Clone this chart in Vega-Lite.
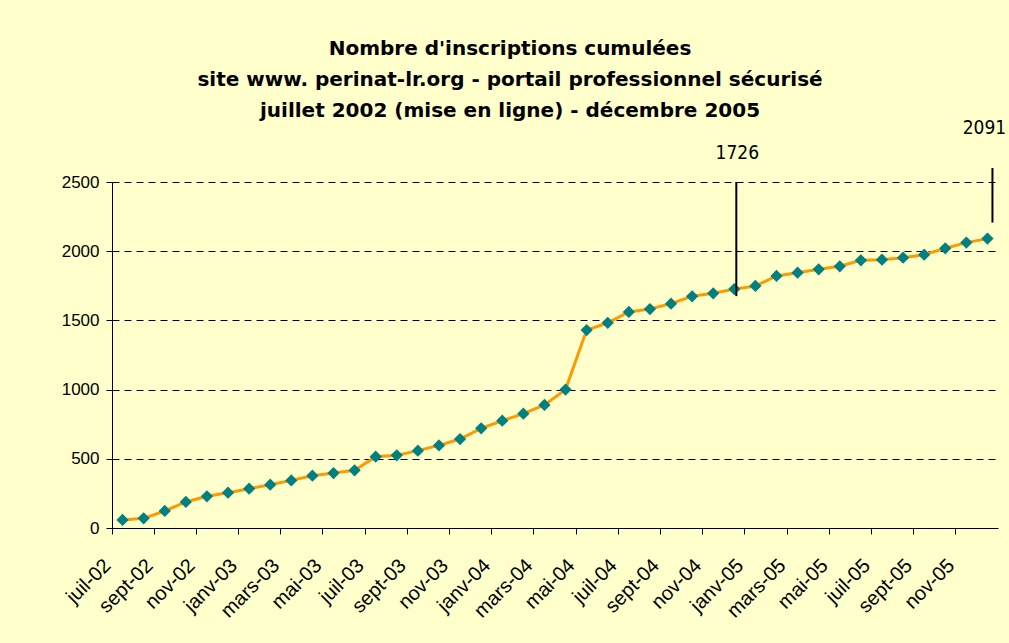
{
  "$schema": "https://vega.github.io/schema/vega-lite/v6.json",
  "width": 886,
  "height": 346,
  "autosize": {"type": "none"},
  "padding": {"left": 112, "top": 182, "right": 11, "bottom": 115},
  "background": "#FFFFCC",
  "config": {"view": {"stroke": null}, "font": "Liberation Sans"},
  "title": {
    "text": ["Nombre d'inscriptions cumulées", "site www. perinat-lr.org - portail professionnel sécurisé", "juillet 2002 (mise en ligne) - décembre 2005"],
    "fontSize": 20,
    "fontWeight": "bold",
    "font": "DejaVu Sans",
    "lineHeight": 31,
    "anchor": "middle",
    "frame": "group",
    "dx": -45,
    "offset": -2,
    "color": "#000000"
  },
  "data": {
    "values": [
      {"mois": "juil-02", "n": 58},
      {"mois": "août-02", "n": 70},
      {"mois": "sept-02", "n": 123},
      {"mois": "oct-02", "n": 188},
      {"mois": "nov-02", "n": 229},
      {"mois": "déc-02", "n": 255},
      {"mois": "janv-03", "n": 284},
      {"mois": "févr-03", "n": 313},
      {"mois": "mars-03", "n": 344},
      {"mois": "avr-03", "n": 378},
      {"mois": "mai-03", "n": 397},
      {"mois": "juin-03", "n": 417},
      {"mois": "juil-03", "n": 515},
      {"mois": "août-03", "n": 525},
      {"mois": "sept-03", "n": 559},
      {"mois": "oct-03", "n": 597},
      {"mois": "nov-03", "n": 643},
      {"mois": "déc-03", "n": 720},
      {"mois": "janv-04", "n": 775},
      {"mois": "févr-04", "n": 826},
      {"mois": "mars-04", "n": 889},
      {"mois": "avr-04", "n": 1000},
      {"mois": "mai-04", "n": 1430},
      {"mois": "juin-04", "n": 1483},
      {"mois": "juil-04", "n": 1561},
      {"mois": "août-04", "n": 1582},
      {"mois": "sept-04", "n": 1621},
      {"mois": "oct-04", "n": 1674},
      {"mois": "nov-04", "n": 1696},
      {"mois": "déc-04", "n": 1726},
      {"mois": "janv-05", "n": 1749},
      {"mois": "févr-05", "n": 1821},
      {"mois": "mars-05", "n": 1845},
      {"mois": "avr-05", "n": 1869},
      {"mois": "mai-05", "n": 1891},
      {"mois": "juin-05", "n": 1934},
      {"mois": "juil-05", "n": 1939},
      {"mois": "août-05", "n": 1953},
      {"mois": "sept-05", "n": 1975},
      {"mois": "oct-05", "n": 2021},
      {"mois": "nov-05", "n": 2062},
      {"mois": "déc-05", "n": 2091}
    ]
  },
  "encoding": {
    "x": {
      "field": "mois",
      "type": "ordinal",
      "sort": null,
      "scale": {"type": "band", "paddingInner": 0, "paddingOuter": 0},
      "axis": {
        "title": null,
        "values": ["juil-02", "sept-02", "nov-02", "janv-03", "mars-03", "mai-03", "juil-03", "sept-03", "nov-03", "janv-04", "mars-04", "mai-04", "juil-04", "sept-04", "nov-04", "janv-05", "mars-05", "mai-05", "juil-05", "sept-05", "nov-05"],
        "bandPosition": 0,
        "labelAngle": -45,
        "labelAlign": "right",
        "labelBaseline": "top",
        "labelPadding": 21,
        "labelOffset": -22,
        "labelFontSize": 20,
        "labelFont": "Liberation Sans",
        "labelColor": "#000000",
        "domainColor": "#000000",
        "tickColor": "#000000",
        "tickSize": 6,
        "grid": false
      }
    },
    "y": {
      "field": "n",
      "type": "quantitative",
      "scale": {"domain": [0, 2500]},
      "axis": {
        "title": null,
        "values": [0, 500, 1000, 1500, 2000, 2500],
        "format": "d",
        "labelFontSize": 17,
        "labelFont": "Liberation Sans",
        "labelColor": "#000000",
        "labelPadding": 7,
        "domainColor": "#000000",
        "tickColor": "#000000",
        "tickSize": 6,
        "grid": true,
        "gridColor": "#000000",
        "gridDash": [7, 5],
        "gridWidth": 1
      }
    }
  },
  "layer": [
    {"mark": {"type": "line", "color": "#FF9900", "strokeWidth": 3}},
    {"mark": {"type": "point", "shape": "diamond", "filled": true, "color": "#008080", "size": 150, "opacity": 1}},
    {
      "transform": [{"filter": "datum.mois == 'déc-04'"}],
      "mark": {"type": "rule", "color": "#000000", "strokeWidth": 2, "yOffset": 7, "xOffset": 2},
      "encoding": {"y2": {"datum": 2500}}
    },
    {
      "transform": [{"filter": "datum.mois == 'déc-05'"}],
      "mark": {"type": "rule", "color": "#000000", "strokeWidth": 2, "yOffset": -16, "y2Offset": -14, "xOffset": 5},
      "encoding": {"y2": {"datum": 2500}}
    },
    {
      "transform": [{"filter": "datum.mois == 'déc-04'"}],
      "mark": {"type": "text", "font": "DejaVu Sans Condensed", "fontSize": 19, "color": "#000000", "baseline": "middle", "align": "center", "dy": -29, "dx": 3},
      "encoding": {"y": {"datum": 2500}, "text": {"field": "n", "type": "quantitative"}}
    },
    {
      "transform": [{"filter": "datum.mois == 'déc-05'"}],
      "mark": {"type": "text", "font": "DejaVu Sans Condensed", "fontSize": 19, "color": "#000000", "baseline": "middle", "align": "center", "dy": -54, "dx": -3},
      "encoding": {"y": {"datum": 2500}, "text": {"field": "n", "type": "quantitative"}}
    }
  ]
}
